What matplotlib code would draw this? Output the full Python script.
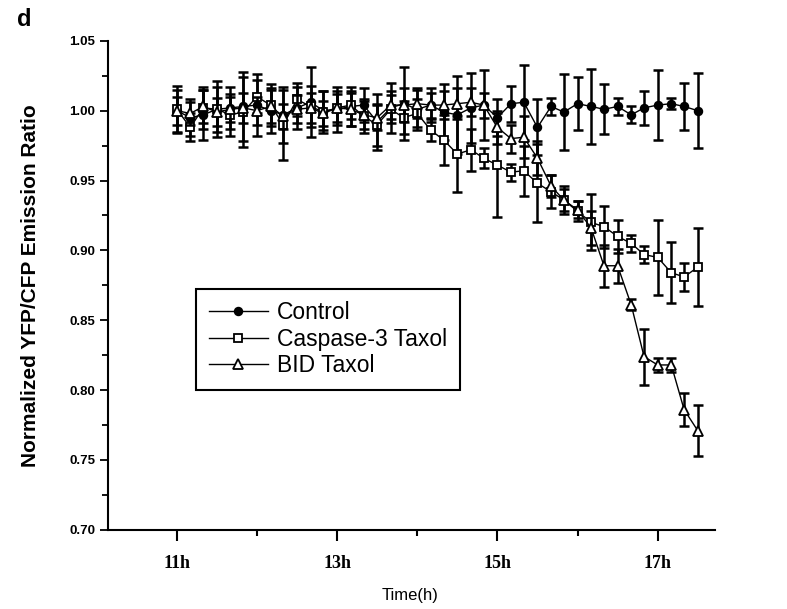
import matplotlib
matplotlib.use('Agg')
import matplotlib.pyplot as plt
from matplotlib.ticker import MultipleLocator, FixedLocator

# sampling times (h), one point every 10 min
times = [11.00, 11.17, 11.33, 11.50, 11.67, 11.83, 12.00, 12.17, 12.33, 12.50,
         12.67, 12.83, 13.00, 13.17, 13.33, 13.50, 13.67, 13.83, 14.00, 14.17,
         14.33, 14.50, 14.67, 14.83, 15.00, 15.17, 15.33, 15.50, 15.67, 15.83,
         16.00, 16.17, 16.33, 16.50, 16.67, 16.83, 17.00, 17.17, 17.33, 17.50]

control = [1.000, 0.995, 0.997, 1.001, 1.002, 1.003, 1.004, 1.000, 0.997, 1.002,
           1.006, 1.000, 1.001, 1.003, 1.004, 0.992, 1.002, 1.005, 1.001, 1.004,
           0.999, 0.997, 1.002, 1.004, 0.995, 1.005, 1.006, 0.988, 1.003, 0.999,
           1.005, 1.003, 1.001, 1.003, 0.997, 1.002, 1.004, 1.005, 1.003, 1.000]
control_err = [0.015, 0.013, 0.018, 0.016, 0.015, 0.025, 0.022, 0.016, 0.020, 0.015,
               0.025, 0.014, 0.016, 0.014, 0.012, 0.020, 0.018, 0.026, 0.015, 0.012,
               0.020, 0.028, 0.025, 0.025, 0.013, 0.013, 0.027, 0.020, 0.006, 0.027,
               0.019, 0.027, 0.018, 0.006, 0.006, 0.012, 0.025, 0.004, 0.017, 0.027]

caspase = [1.001, 0.988, 1.002, 1.001, 0.997, 0.999, 1.010, 1.004, 0.990, 1.008,
           1.003, 0.999, 1.002, 1.004, 0.996, 0.990, 1.001, 0.995, 0.998, 0.986,
           0.979, 0.969, 0.972, 0.966, 0.961, 0.956, 0.957, 0.948, 0.942, 0.936,
           0.928, 0.920, 0.917, 0.910, 0.905, 0.897, 0.895, 0.884, 0.881, 0.888]
caspase_err = [0.017, 0.010, 0.015, 0.020, 0.015, 0.025, 0.012, 0.015, 0.025, 0.012,
               0.015, 0.015, 0.012, 0.010, 0.012, 0.015, 0.010, 0.012, 0.010, 0.008,
               0.018, 0.027, 0.015, 0.007, 0.037, 0.006, 0.018, 0.028, 0.012, 0.010,
               0.007, 0.020, 0.015, 0.012, 0.006, 0.006, 0.027, 0.022, 0.010, 0.028]

bid = [1.000, 0.998, 1.003, 0.999, 1.001, 1.002, 1.000, 1.003, 0.996, 1.001,
       1.002, 0.998, 1.002, 1.001, 0.997, 0.995, 1.004, 1.004, 1.005, 1.004,
       1.004, 1.005, 1.006, 1.004, 0.988, 0.980, 0.981, 0.966, 0.946, 0.936,
       0.929, 0.916, 0.889, 0.889, 0.861, 0.824, 0.818, 0.818, 0.786, 0.771]
bid_err = [0.010, 0.008, 0.012, 0.010, 0.009, 0.011, 0.010, 0.012, 0.009, 0.010,
           0.011, 0.009, 0.010, 0.012, 0.010, 0.009, 0.010, 0.012, 0.010, 0.009,
           0.010, 0.011, 0.010, 0.009, 0.012, 0.010, 0.015, 0.012, 0.008, 0.008,
           0.006, 0.012, 0.015, 0.012, 0.004, 0.020, 0.005, 0.005, 0.012, 0.018]

labels = ['Control', 'Caspase-3 Taxol', 'BID Taxol']
xticks = [11, 13, 15, 17]
xticklabels = ['11h', '13h', '15h', '17h']

fig = plt.figure(figsize=(7.87, 6.09), dpi=100)
ax = fig.add_axes([0.137, 0.130, 0.772, 0.803])

series = [(control, control_err, 'o', 'black', 5.5),
          (caspase, caspase_err, 's', 'white', 6),
          (bid, bid_err, '^', 'white', 7.5)]
handles = []
for i, (y, e, m, fc, ms) in enumerate(series):
    ax.errorbar(times, y, yerr=e, fmt='none', ecolor='black', elinewidth=1.8,
                capsize=3.5, capthick=1.8, zorder=2 + i)
    h, = ax.plot(times, y, '-', color='black', lw=1.0, marker=m, ms=ms,
                 mfc=fc, mec='black', mew=1.3, zorder=2.5 + i, label=labels[i])
    handles.append(h)

ax.set_xlim(10.14, 17.72)
ax.set_ylim(0.70, 1.05)
ax.xaxis.set_major_locator(FixedLocator(xticks))
ax.xaxis.set_minor_locator(FixedLocator([12, 14, 16]))
ax.set_xticklabels(xticklabels, family='Liberation Serif', fontweight='bold',
                   fontsize=13)
ax.yaxis.set_major_locator(MultipleLocator(0.05))
ax.yaxis.set_minor_locator(MultipleLocator(0.025))
ax.set_yticks(ax.get_yticks())
ax.set_yticklabels([f'{v:.2f}' for v in ax.get_yticks()], family='Liberation Sans',
                   fontweight='bold', fontsize=9.5)
ax.set_ylim(0.70, 1.05)

for s in ['top', 'right']:
    ax.spines[s].set_visible(False)
for s in ['left', 'bottom']:
    ax.spines[s].set_linewidth(1.5)
ax.tick_params(axis='x', which='major', direction='out', length=8, width=1.5, pad=10)
ax.tick_params(axis='x', which='minor', direction='out', length=4, width=1.5)
ax.tick_params(axis='y', which='major', direction='out', length=6, width=1.3, pad=3)
ax.tick_params(axis='y', which='minor', direction='out', length=4, width=1.3)

ax.set_xlabel('Time(h)', family='Liberation Sans', fontsize=12)
ax.xaxis.set_label_coords(0.497, -0.118)
ax.set_ylabel('Normalized YFP/CFP Emission Ratio', family='Liberation Sans',
              fontweight='bold', fontsize=15)
ax.yaxis.set_label_coords(-0.112, 0.5)

leg = ax.legend(handles=handles, loc='upper left', bbox_to_anchor=(0.145, 0.493),
                frameon=True, fancybox=False, edgecolor='black', framealpha=1,
                prop={'family': 'Liberation Sans', 'size': 16.5},
                handlelength=2.6, handletextpad=0.4, labelspacing=0.15,
                borderpad=0.55, borderaxespad=0)
leg.get_frame().set_linewidth(1.5)

fig.text(0.022, 0.968, 'd', family='Liberation Sans', fontweight='bold',
         fontsize=17, va='center')

fig.savefig('out.png', dpi=100)
